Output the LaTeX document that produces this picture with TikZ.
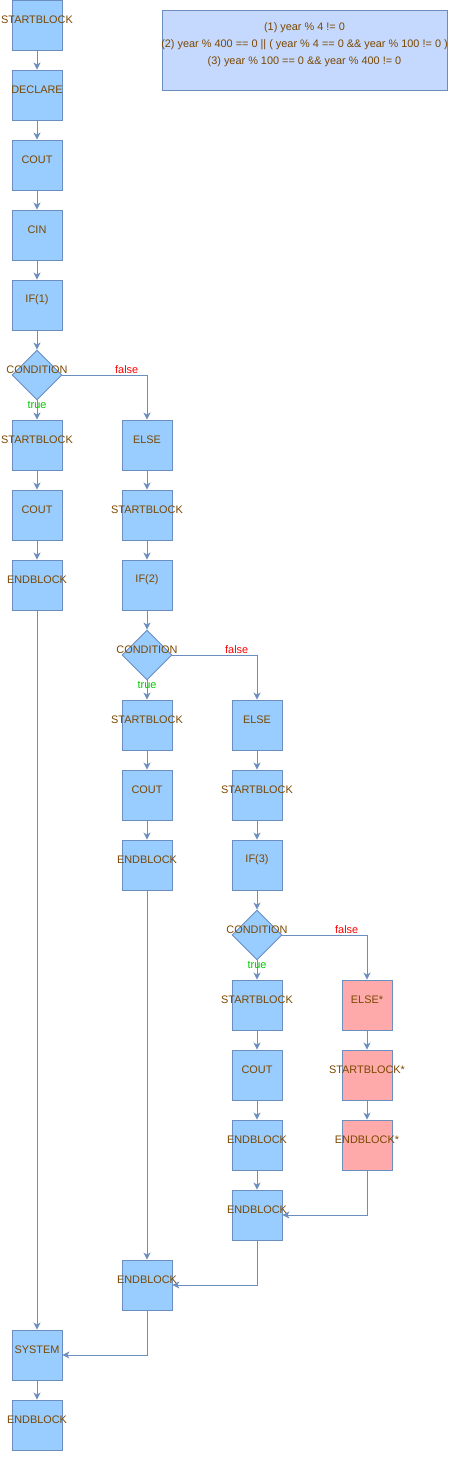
\documentclass[tikz,border=0pt]{standalone}
\usepackage{fontspec}
\setmainfont{Liberation Sans}
\usetikzlibrary{shapes.geometric,arrows.meta}

\definecolor{edgecol}{RGB}{108,142,191}
\definecolor{boxfill}{RGB}{153,204,255}
\definecolor{pinkfill}{RGB}{255,170,170}
\definecolor{notefill}{RGB}{197,217,255}
\definecolor{txtcol}{RGB}{122,72,0}

\begin{document}
\begin{tikzpicture}[x=1pt, y=-1pt, line width=0.9pt,
    >={Stealth[length=7pt, width=7pt, inset=2pt]}]

    \tikzset{txt/.style={%
      text=txtcol,%
      inner sep=0pt,%
      font=\fontsize{10.9}{17}\selectfont,%
      yshift=5pt}%
    };

    \tikzset{block/.style={%
      draw=edgecol,%
      fill=boxfill,%
      rectangle,%
      inner sep=0pt,%
      minimum width=50pt,%
      minimum height=50pt,%
      label={[txt]center:#1}}%
    };

    \tikzset{redblock/.style={block=#1, fill=pinkfill}};

    \tikzset{cond/.style={%
      draw=edgecol,%
      fill=boxfill,%
      diamond,%
      inner sep=0pt,%
      minimum width=50pt,%
      minimum height=50pt,%
      label={[txt]center:CONDITION}}%
    };

    \tikzset{truelbl/.style={text={rgb,255:red,0;green,200;blue,0}, inner sep=0pt, font=\fontsize{10.9}{12}\selectfont}};
    \tikzset{falselbl/.style={text=red, inner sep=0pt, font=\fontsize{10.9}{12}\selectfont, yshift=5pt}};

    \useasboundingbox (0,0) rectangle (453,1472);

    %%%%%%%%%%%%%%%
    % note        %
    %%%%%%%%%%%%%%%
    \path (304.5, 50) node [draw=edgecol, fill=notefill, minimum width=285pt,
      minimum height=80pt, inner sep=0pt,
      label={[txt, align=center]center:(1) year \% 4 != 0\\(2) year \% 400 == 0 || ( year \% 4 == 0 \&\& year \% 100 != 0 )\\(3) year \% 100 == 0 \&\& year \% 400 != 0}] (note) {};

    %%%%%%%%%%%%%%%
    % first if    %
    %%%%%%%%%%%%%%%
    \path (37, 25) node [block=STARTBLOCK] (start) {};
    \path (37, 95) node [block=DECLARE] (decl) {};
    \path (37, 165) node [block=COUT] (couta) {};
    \path (37, 235) node [block=CIN] (cin) {};
    \path (37, 305) node [block=IF(1)] (ifa) {};
    \path (37, 375) node [cond] (conda) {};
    \path (37, 445) node [block=STARTBLOCK] (sba) {};
    \path (37, 515) node [block=COUT] (coutb) {};
    \path (37, 585) node [block=ENDBLOCK] (eba) {};
    \path (37, 1355) node [block=SYSTEM] (sys) {};
    \path (37, 1425) node [block=ENDBLOCK] (ebend) {};

    %%%%%%%%%%%%%%%
    % second if   %
    %%%%%%%%%%%%%%%
    \path (147, 445) node [block=ELSE] (elsea) {};
    \path (147, 515) node [block=STARTBLOCK] (sbb) {};
    \path (147, 585) node [block=IF(2)] (ifb) {};
    \path (147, 655) node [cond] (condb) {};
    \path (147, 725) node [block=STARTBLOCK] (sbc) {};
    \path (147, 795) node [block=COUT] (coutc) {};
    \path (147, 865) node [block=ENDBLOCK] (ebb) {};
    \path (147, 1285) node [block=ENDBLOCK] (ebelsea) {};

    %%%%%%%%%%%%%%%
    % third if    %
    %%%%%%%%%%%%%%%
    \path (257, 725) node [block=ELSE] (elseb) {};
    \path (257, 795) node [block=STARTBLOCK] (sbd) {};
    \path (257, 865) node [block=IF(3)] (ifc) {};
    \path (257, 935) node [cond] (condc) {};
    \path (257, 1005) node [block=STARTBLOCK] (sbe) {};
    \path (257, 1075) node [block=COUT] (coutd) {};
    \path (257, 1145) node [block=ENDBLOCK] (ebc) {};
    \path (257, 1215) node [block=ENDBLOCK] (ebelseb) {};

    \path (367, 1005) node [redblock=ELSE*] (elsec) {};
    \path (367, 1075) node [redblock=STARTBLOCK*] (sbf) {};
    \path (367, 1145) node [redblock=ENDBLOCK*] (ebd) {};

    %%%%%%%%%%%%%%%
    % arrows      %
    %%%%%%%%%%%%%%%
    \begin{scope}[draw=edgecol]
    \draw [->] (start) -- (decl);
    \draw [->] (decl) -- (couta);
    \draw [->] (couta) -- (cin);
    \draw [->] (cin) -- (ifa);
    \draw [->] (ifa) -- (conda);
    \draw [->] (conda) -- node [truelbl, pos=0.25] {true} (sba);
    \draw [->] (conda) -| node [falselbl, pos=0.38] {false} (elsea);
    \draw [->] (sba) -- (coutb);
    \draw [->] (coutb) -- (eba);
    \draw [->] (eba) -- (sys);
    \draw [->] (sys) -- (ebend);

    \draw [->] (elsea) -- (sbb);
    \draw [->] (sbb) -- (ifb);
    \draw [->] (ifb) -- (condb);
    \draw [->] (condb) -- node [truelbl, pos=0.25] {true} (sbc);
    \draw [->] (condb) -| node [falselbl, pos=0.38] {false} (elseb);
    \draw [->] (sbc) -- (coutc);
    \draw [->] (coutc) -- (ebb);
    \draw [->] (ebb) -- (ebelsea);
    \draw [->] (ebelsea) |- (sys);

    \draw [->] (elseb) -- (sbd);
    \draw [->] (sbd) -- (ifc);
    \draw [->] (ifc) -- (condc);
    \draw [->] (condc) -- node [truelbl, pos=0.25] {true} (sbe);
    \draw [->] (condc) -| node [falselbl, pos=0.38] {false} (elsec);
    \draw [->] (sbe) -- (coutd);
    \draw [->] (coutd) -- (ebc);
    \draw [->] (ebc) -- (ebelseb);
    \draw [->] (ebelseb) |- (ebelsea);

    \draw [->] (elsec) -- (sbf);
    \draw [->] (sbf) -- (ebd);
    \draw [->] (ebd) |- (ebelseb);
    \end{scope}

  \end{tikzpicture}
\end{document}
